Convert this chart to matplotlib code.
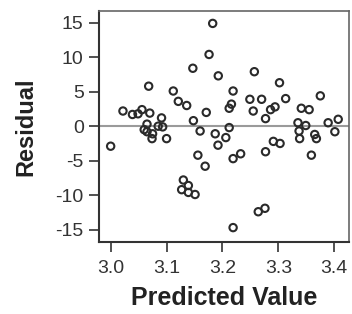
import numpy as np
import matplotlib
matplotlib.use("Agg")
import matplotlib.pyplot as plt

plt.rcParams['font.family'] = ['Liberation Sans', 'DejaVu Sans']

# predicted value vs residual
predicted = [3.000, 3.022, 3.039, 3.049, 3.056, 3.068, 3.070, 3.065, 3.060, 3.065,
             3.075, 3.074, 3.085, 3.091, 3.093, 3.100, 3.112, 3.121, 3.136, 3.147,
             3.148, 3.160, 3.171, 3.176, 3.1825, 3.187, 3.1925, 3.192, 3.206, 3.212,
             3.216, 3.219, 3.212, 3.219, 3.2325, 3.249, 3.255, 3.257, 3.270, 3.277,
             3.286, 3.294, 3.302, 3.313, 3.277, 3.291, 3.303, 3.264, 3.276, 3.219,
             3.156, 3.169, 3.130, 3.139, 3.127, 3.139, 3.151, 3.341, 3.355, 3.375,
             3.335, 3.349, 3.389, 3.407, 3.337, 3.338, 3.365, 3.368, 3.401, 3.359]
residual = [-2.9, 2.2, 1.7, 1.8, 2.4, 5.8, 1.9, 0.3, -0.5, -0.8,
            -1.1, -1.8, 0.0, 1.2, -0.1, -1.8, 5.1, 3.6, 3.0, 8.4,
            0.8, -0.7, 2.0, 10.4, 14.9, -1.1, 7.3, -2.75, -1.65, 2.6,
            3.2, 5.1, -0.2, -4.7, -4.0, 3.9, 2.2, 7.9, 3.9, 1.1,
            2.4, 2.8, 6.3, 4.0, -3.7, -2.2, -2.5, -12.4, -11.9, -14.7,
            -4.2, -5.8, -7.8, -8.6, -9.2, -9.6, -9.9, 2.6, 2.4, 4.4,
            0.5, 0.1, 0.5, 1.0, -0.7, -1.8, -1.2, -1.8, -0.8, -4.2]

xticks = [3.0, 3.1, 3.2, 3.3, 3.4]
yticks = [-15, -10, -5, 0, 5, 10, 15]

fig = plt.figure(figsize=(3.52, 3.14), dpi=100)
ax = fig.add_axes([0.281, 0.229, 0.710, 0.736])

ax.axhline(0, color='#9a9a9a', lw=1.5, zorder=1)
ax.scatter(predicted, residual, s=28, facecolors='none',
           edgecolors='#2a2a2a', linewidths=1.5, zorder=2)

ax.set_xlim(2.979, 3.426)
ax.set_ylim(-16.8, 16.7)
ax.set_xticks(xticks)
ax.set_xticklabels(['%.1f' % v for v in xticks])
ax.set_yticks(yticks)
ax.set_yticklabels([str(v) for v in yticks])

for side in ['left', 'bottom']:
    ax.spines[side].set_color('#333333')
    ax.spines[side].set_linewidth(1.5)
for side in ['top', 'right']:
    ax.spines[side].set_color('#666666')
    ax.spines[side].set_linewidth(1.2)

ax.tick_params(direction='out', length=7, width=1.2, color='#333333',
               labelsize=14, labelcolor='#333333')
ax.tick_params(axis='x', pad=6)
ax.tick_params(axis='y', pad=4)

ax.set_xlabel('Predicted Value', fontsize=18, fontweight='bold', color='#222222')
ax.set_ylabel('Residual', fontsize=17, fontweight='bold', color='#222222')
ax.xaxis.set_label_coords(0.5, -0.19)
ax.yaxis.set_label_coords(-0.245, 0.5)

fig.savefig('out.png', dpi=100)
